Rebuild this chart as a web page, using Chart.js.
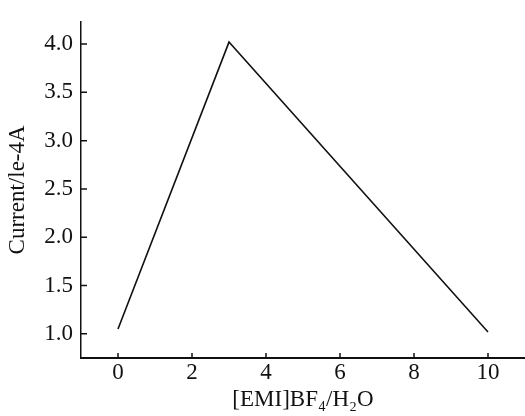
<!DOCTYPE html>
<html>
<head>
<meta charset="utf-8">
<script src="https://cdn.jsdelivr.net/npm/chart.js@4"></script>
<style>
html,body{margin:0;padding:0;background:#fff;}
#wrap{width:525px;height:416px;}
</style>
</head>
<body>
<div id="wrap"><canvas id="c" width="525" height="416"></canvas></div>
<script>
const xValues = [0, 3, 10];
const currentValues = [1.05, 4.02, 1.02];
const xTicks = [0, 2, 4, 6, 8, 10];
const yTicks = [1.0, 1.5, 2.0, 2.5, 3.0, 3.5, 4.0];
const xTitle = '[EMI]BF\u2084/H\u2082O';
const yTitle = 'Current/le-4A';

const FONT = "'Liberation Serif', 'Times New Roman', serif";

const inwardTicks = {
  id: 'inwardTicks',
  afterDraw(chart) {
    const ctx = chart.ctx;
    const xs = chart.scales.x, ys = chart.scales.y;
    const area = chart.chartArea;
    ctx.save();
    ctx.strokeStyle = '#111';
    ctx.lineWidth = 1.5;
    ctx.beginPath();
    xs.ticks.forEach(t => {
      const px = xs.getPixelForValue(t.value);
      ctx.moveTo(px, area.bottom);
      ctx.lineTo(px, area.bottom - 5);
    });
    ys.ticks.forEach(t => {
      const py = ys.getPixelForValue(t.value);
      ctx.moveTo(area.left, py);
      ctx.lineTo(area.left + 6, py);
    });
    ctx.stroke();
    ctx.restore();
  }
};

new Chart(document.getElementById('c'), {
  type: 'line',
  data: {
    datasets: [{
      data: xValues.map((x, i) => ({x: x, y: currentValues[i]})),
      borderColor: '#111',
      borderWidth: 1.6,
      pointRadius: 0,
      fill: false,
      tension: 0
    }]
  },
  options: {
    responsive: false,
    animation: false,
    layout: {padding: {top: 12, right: 0, left: 0, bottom: 0}},
    plugins: {legend: {display: false}, tooltip: {enabled: false}},
    scales: {
      x: {
        type: 'linear',
        min: -1,
        max: 11,
        afterBuildTicks: s => { s.ticks = xTicks.map(v => ({value: v})); },
        afterFit: s => { s.height = 58; },
        grid: {display: false, drawTicks: false},
        border: {display: true, color: '#111', width: 2},
        ticks: {
          color: '#111',
          padding: 1,
          maxRotation: 0,
          font: {family: FONT, size: 23},
          callback: v => String(v)
        },
        title: {
          display: true,
          text: xTitle,
          color: '#111',
          font: {family: FONT, size: 23},
          padding: {top: 0, bottom: 2}
        }
      },
      y: {
        type: 'linear',
        min: 0.75,
        max: 4.23,
        afterBuildTicks: s => { s.ticks = yTicks.map(v => ({value: v})); },
        afterFit: s => { s.width = 81; },
        grid: {display: false, drawTicks: false},
        border: {display: true, color: '#111', width: 1.5},
        ticks: {
          color: '#111',
          padding: 8,
          font: {family: FONT, size: 23},
          callback: v => Number(v).toFixed(1)
        },
        title: {
          display: true,
          text: yTitle,
          color: '#111',
          font: {family: FONT, size: 23},
          padding: {top: 4, bottom: 0}
        }
      }
    }
  },
  plugins: [inwardTicks]
});
</script>
</body>
</html>
